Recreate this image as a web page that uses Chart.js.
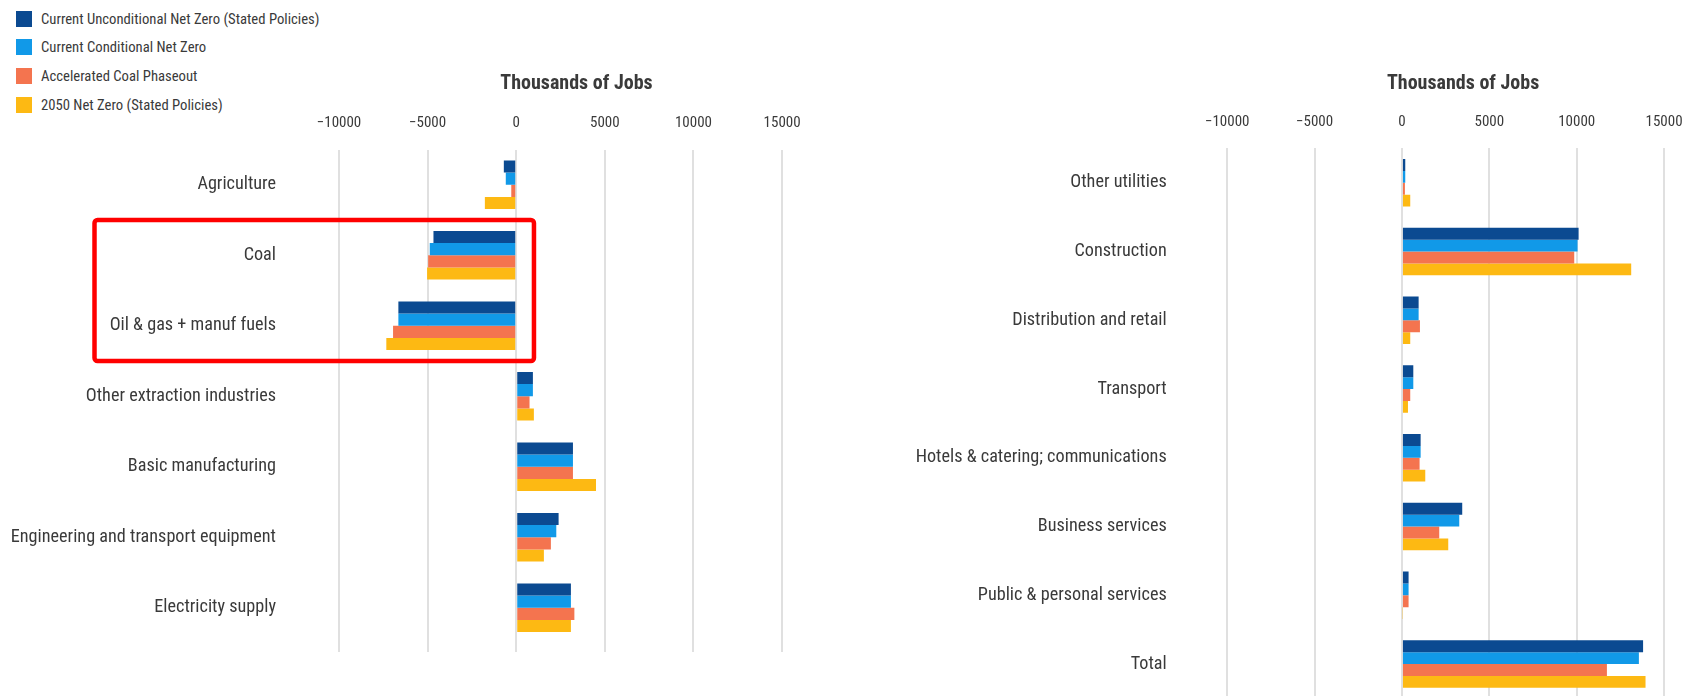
<!DOCTYPE html>
<html>
<head>
<meta charset="utf-8">
<script src="https://cdn.jsdelivr.net/npm/chart.js@4.4.1/dist/chart.umd.min.js"></script>
<style>
  html, body { margin: 0; padding: 0; background: #fff; overflow: hidden; }
  body { width: 1682px; height: 696px; position: relative; }
  #left-chart { position: absolute; left: 0; top: 0; }
  #right-chart { position: absolute; left: 870px; top: 0; }
  #legend { position: absolute; left: 16px; top: 0; margin: 0; padding: 0; list-style: none;
    font-family: "Liberation Sans Narrow", "Roboto Condensed", Roboto, sans-serif; font-size: 14.7px; color: #3a3a3a; }
  #legend li { position: absolute; left: 0; white-space: nowrap; height: 16px; line-height: 16px; }
  #legend span.box { display: inline-block; width: 16px; height: 16px; vertical-align: top; margin-right: 9px; }
</style>
</head>
<body>
<ul id="legend"></ul>
<canvas id="left-chart" width="814" height="696"></canvas>
<canvas id="right-chart" width="829" height="700"></canvas>
<script>
const seriesNames = [
  'Current Unconditional Net Zero (Stated Policies)',
  'Current Conditional Net Zero',
  'Accelerated Coal Phaseout',
  '2050 Net Zero (Stated Policies)'
];
const seriesColors = ['#0b4a91', '#1199e8', '#f4744f', '#fdb913'];

const leftSectors = ['Agriculture', 'Coal', 'Oil & gas + manuf fuels', 'Other extraction industries',
  'Basic manufacturing', 'Engineering and transport equipment', 'Electricity supply'];
const leftUnconditional = [-700, -4670, -6650, 940, 3200, 2390, 3085];
const leftConditional   = [-590, -4880, -6650, 940, 3200, 2260, 3085];
const leftCoalPhaseout  = [-280, -4970, -6950, 750, 3200, 1955, 3280];
const leftNetZero2050   = [-1770, -5030, -7330, 995, 4500, 1560, 3085];

const rightSectors = ['Other utilities', 'Construction', 'Distribution and retail', 'Transport',
  'Hotels & catering; communications', 'Business services', 'Public & personal services', 'Total'];
const rightUnconditional = [190, 10110, 955, 650, 1070, 3450, 380, 13800];
const rightConditional   = [190, 10050, 955, 650, 1070, 3280, 380, 13560];
const rightCoalPhaseout  = [170, 9860, 1030, 475, 1010, 2135, 380, 11730];
const rightNetZero2050   = [475, 13120, 475, 345, 1335, 2650, 40, 13940];

const tickValues = [-10000, -5000, 0, 5000, 10000, 15000];
const axisTitle = 'Thousands of Jobs';
const highlighted = ['Coal', 'Oil & gas + manuf fuels'];

const fontFamily = '"Liberation Sans Narrow", "Roboto Condensed", Roboto, sans-serif';
const textColor = '#3a3a3a';
const gridColor = '#e0e0e0';

function makeDatasets(seriesValues) {
  return seriesValues.map((values, i) => ({
    label: seriesNames[i],
    data: values,
    backgroundColor: seriesColors[i],
    categoryPercentage: 0.69,
    barPercentage: 1.0
  }));
}

// fixed ticks every 5000, the axis itself runs a bit past 15000
function setTicks(scale) {
  scale.ticks = tickValues.map(v => ({ value: v }));
}

// red box round the fossil fuel rows of the left panel
const highlightBox = {
  id: 'highlightBox',
  afterDraw(chart) {
    const y = chart.scales.y;
    const x = chart.scales.x;
    const first = leftSectors.indexOf(highlighted[0]);
    const last = leftSectors.indexOf(highlighted[highlighted.length - 1]);
    const band = y.getPixelForValue(1) - y.getPixelForValue(0);
    const top = y.getPixelForValue(first) - band / 2;
    const bottom = y.getPixelForValue(last) + band / 2;
    const left = 94.5;
    const right = x.getPixelForValue(1000);
    const ctx = chart.ctx;
    ctx.save();
    ctx.strokeStyle = '#ff0000';
    ctx.lineWidth = 4.5;
    ctx.beginPath();
    ctx.roundRect(left, top, right - left, bottom - top, 3);
    ctx.stroke();
    ctx.restore();
  }
};

function drawChart(canvas, labels, datasets, opts) {
  const scales = {
    x: {
      position: 'top',
      min: -10000,
      max: opts.max,
      afterBuildTicks: setTicks,
      afterFit: s => {
        s.height = opts.top;
        s.paddingLeft = 0;
        s.paddingRight = 0;
      },
      grid: { color: gridColor, lineWidth: 2, drawTicks: false },
      border: { display: false },
      ticks: {
        padding: 17,
        color: textColor,
        font: { family: fontFamily, size: 15 },
        callback: v => String(v).replace('-', '\u2212')
      },
      title: {
        display: true,
        text: axisTitle,
        color: textColor,
        font: { family: fontFamily, size: 20, weight: 'bold' },
        padding: { top: 72, bottom: 0 }
      }
    },
    y: {
      afterFit: s => {
        s.width = opts.yWidth;
        // the label gap should not push the plot area up from the bottom
        s.paddingTop = 0;
        s.paddingBottom = 0;
      },
      grid: { display: false, drawTicks: false },
      border: { display: false },
      ticks: {
        padding: opts.labelPad,
        color: textColor,
        font: { family: fontFamily, size: 18.2 }
      }
    }
  };
  if (opts.tail) {
    // grid lines run a little past the last row
    scales.x2 = {
      position: 'bottom',
      min: -10000,
      max: opts.max,
      afterBuildTicks: setTicks,
      afterFit: s => {
        s.height = opts.tail;
        s.paddingLeft = 0;
        s.paddingRight = 0;
      },
      grid: { color: gridColor, lineWidth: 2, drawOnChartArea: false, drawTicks: true, tickLength: opts.tail },
      border: { display: false },
      ticks: { display: false }
    };
  }
  return new Chart(canvas, {
    type: 'bar',
    data: { labels: labels, datasets: datasets },
    options: {
      indexAxis: 'y',
      responsive: false,
      animation: false,
      layout: { padding: { top: 0, left: 0, right: 0, bottom: opts.bottom } },
      plugins: { legend: { display: false }, tooltip: { enabled: false } },
      scales: scales
    },
    plugins: opts.plugins || []
  });
}

drawChart(document.querySelector('#left-chart'), leftSectors,
  makeDatasets([leftUnconditional, leftConditional, leftCoalPhaseout, leftNetZero2050]),
  { max: 16800, top: 149.5, yWidth: 339, labelPad: 63, bottom: 44, tail: 9, plugins: [highlightBox] });

drawChart(document.querySelector('#right-chart'), rightSectors,
  makeDatasets([rightUnconditional, rightConditional, rightCoalPhaseout, rightNetZero2050]),
  { max: 17000, top: 148.4, yWidth: 357.2, labelPad: 60.5, bottom: 1.6 });

// legend, one row per series
const legend = document.querySelector('#legend');
const legendTops = [11, 39, 67.5, 96.5];
seriesNames.forEach((name, i) => {
  const li = document.createElement('li');
  li.style.top = legendTops[i] + 'px';
  const box = document.createElement('span');
  box.className = 'box';
  box.style.background = seriesColors[i];
  li.appendChild(box);
  li.appendChild(document.createTextNode(name));
  legend.appendChild(li);
});
</script>
</body>
</html>
